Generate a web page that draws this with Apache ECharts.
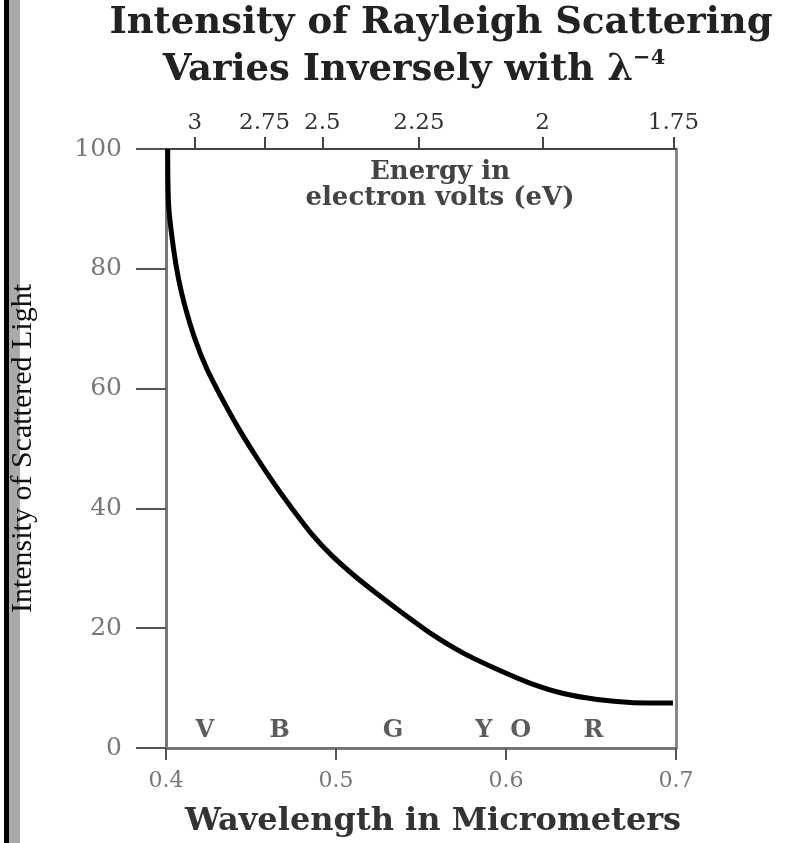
<!DOCTYPE html>
<html>
<head>
<meta charset="utf-8">
<script src="https://cdn.jsdelivr.net/npm/echarts@6/dist/echarts.min.js"></script>
<style>html,body{margin:0;padding:0;background:#fff}#c{width:788px;height:843px}</style>
</head>
<body>
<div id="c"></div>
<script>
// Curve: wavelength (micrometers) vs intensity of scattered light
var wavelength = [0.4010, 0.4016, 0.4045, 0.4074, 0.4111, 0.4170, 0.4240, 0.4328, 0.4426, 0.4522,
  0.4639, 0.4738, 0.4855, 0.4973, 0.5119, 0.5266, 0.5383, 0.5559, 0.5752, 0.5951,
  0.6144, 0.6338, 0.6537, 0.6731, 0.6982];
var intensity = [100, 90.4, 83.2, 78.3, 73.8, 68.3, 63.3, 58.4, 53.4, 49.0,
  44.0, 40.1, 35.8, 32.2, 28.5, 25.2, 22.7, 19.1, 15.8, 13.1,
  10.8, 9.1, 8.1, 7.6, 7.5];
// Top axis: energy labels (eV) and the wavelength where each is drawn
var energyLabels = ['3', '2.75', '2.5', '2.25', '2', '1.75'];
var energyAtWavelength = [0.4170, 0.4580, 0.4920, 0.5488, 0.6215, 0.6985];
// Colour band letters and their wavelengths
var colorLetters = ['V', 'B', 'G', 'Y', 'O', 'R'];
var letterWavelength = [0.4229, 0.4668, 0.5336, 0.5869, 0.6086, 0.6514];
var letterLevel = 2.8;
// Y ticks
var yMin = 0, yMax = 100, yStep = 20;

var chart = echarts.init(document.getElementById('c'));
var curve = wavelength.map(function (w, i) { return [w, intensity[i]]; });
var letters = colorLetters.map(function (t, i) { return { name: t, value: [letterWavelength[i], letterLevel] }; });
function energyFmt(v) {
  var best = 0, d = 1e9;
  for (var i = 0; i < energyAtWavelength.length; i++) {
    var dd = Math.abs(energyAtWavelength[i] - v);
    if (dd < d) { d = dd; best = i; }
  }
  return energyLabels[best];
}
var serif = 'DejaVu Serif';
chart.setOption({
  animation: false,
  backgroundColor: '#fff',
  grid: { left: 164, right: 112, top: 149, bottom: 91 },
  graphic: [
    { type: 'rect', left: 4, top: 0, shape: { width: 5, height: 843 }, style: { fill: '#000' } },
    { type: 'rect', left: 9, top: 0, shape: { width: 11, height: 843 }, style: { fill: '#aaa' } },
    { type: 'text', x: 441, y: 23, style: { text: 'Intensity of Rayleigh Scattering', fontFamily: serif, fontWeight: 'bold', fontSize: 37, fill: '#222', align: 'center', verticalAlign: 'middle' } },
    { type: 'text', x: 414, y: 70, style: { text: 'Varies Inversely with {l|λ}{s|−4}', fontFamily: serif, fontWeight: 'bold', fontSize: 37, fill: '#222', align: 'center', verticalAlign: 'middle',
        rich: { l: { fontFamily: serif, fontWeight: 'bold', fontSize: 37, fill: '#222' }, s: { fontFamily: serif, fontWeight: 'bold', fontSize: 21, fill: '#222', verticalAlign: 'top', padding: [0, 0, 22, 0] } } } },
    { type: 'text', x: 440, y: 185, style: { text: 'Energy in\nelectron volts (eV)', fontFamily: serif, fontWeight: 'bold', fontSize: 26, lineHeight: 26, fill: '#444', align: 'center', verticalAlign: 'middle' } }
  ],
  xAxis: [
    { type: 'value', position: 'bottom', min: 0.4, max: 0.7, interval: 0.1,
      axisLine: { show: true, onZero: false, lineStyle: { color: '#777', width: 3 } },
      axisTick: { show: true, length: 12, lineStyle: { color: '#555', width: 2 } },
      axisLabel: { margin: 22, fontFamily: serif, fontSize: 22, color: '#777', formatter: function (v) { return v.toFixed(1); } },
      splitLine: { show: false },
      name: 'Wavelength in Micrometers', nameLocation: 'middle', nameGap: 58,
      nameTextStyle: { fontFamily: serif, fontWeight: 'bold', fontSize: 32, color: '#333', padding: [0, 0, 0, 24] } },
    { type: 'value', position: 'top', min: 0.4, max: 0.7,
      axisLine: { show: true, onZero: false, lineStyle: { color: '#444', width: 2 } },
      axisTick: { show: true, length: 12, customValues: energyAtWavelength, lineStyle: { color: '#444', width: 2 } },
      axisLabel: { show: true, customValues: energyAtWavelength, margin: 14, fontFamily: serif, fontSize: 23, color: '#333', formatter: energyFmt },
      splitLine: { show: false } }
  ],
  yAxis: [
    { type: 'value', min: yMin, max: yMax, interval: yStep,
      axisLine: { show: true, onZero: false, lineStyle: { color: '#777', width: 3 } },
      axisTick: { show: true, length: 30, lineStyle: { color: '#555', width: 2 } },
      axisLabel: { margin: 44, fontFamily: serif, fontSize: 25, color: '#777' },
      splitLine: { show: false },
      name: 'Intensity of Scattered Light', nameLocation: 'middle', nameGap: 128, nameRotate: 90,
      nameTextStyle: { fontFamily: 'Liberation Serif', fontSize: 30, color: '#111' } },
    { type: 'value', position: 'right', min: yMin, max: yMax, interval: yStep,
      axisLine: { show: true, onZero: false, lineStyle: { color: '#888', width: 3 } },
      axisTick: { show: false }, axisLabel: { show: false }, splitLine: { show: false } }
  ],
  series: [
    { type: 'line', data: curve, smooth: 0.3, showSymbol: false, xAxisIndex: 0, yAxisIndex: 0,
      lineStyle: { color: '#000', width: 5 } },
    { type: 'scatter', data: letters, symbolSize: 0, xAxisIndex: 0, yAxisIndex: 0,
      label: { show: true, position: 'inside', formatter: '{b}', fontFamily: serif, fontWeight: 'bold', fontSize: 24, color: '#333' } }
  ]
});
</script>
</body>
</html>
